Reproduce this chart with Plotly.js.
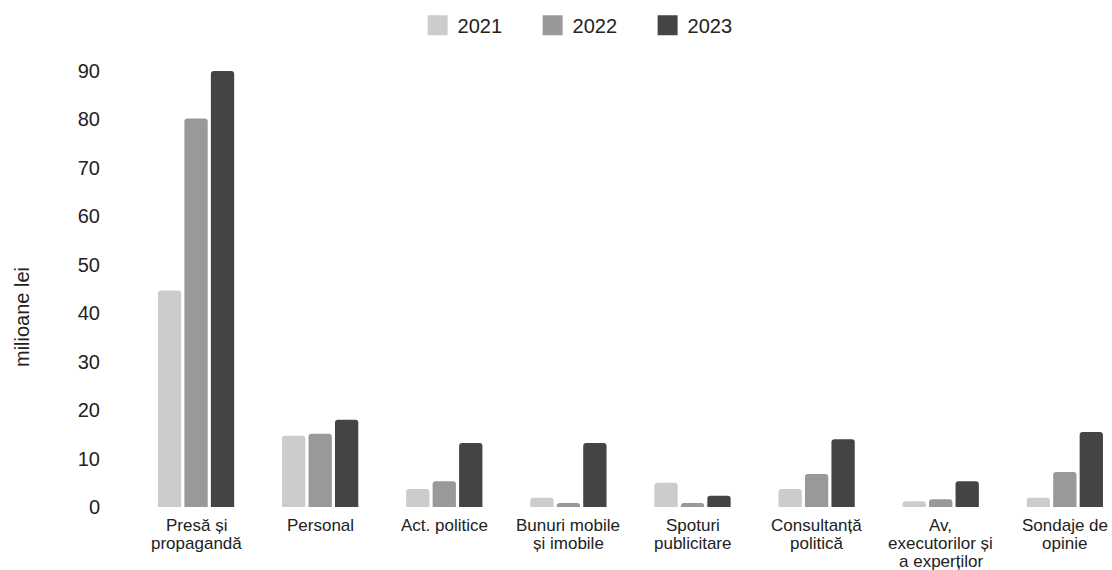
<!DOCTYPE html>
<html><head><meta charset="utf-8">
<script src="https://cdn.plot.ly/plotly-3.0.1.min.js"></script>
<style>html,body{margin:0;padding:0;background:#fff}#chart{width:1112px;height:570px}</style>
</head><body><div id="chart"></div>
<script>
var categories = ["Presă și<br>propagandă","Personal","Act. politice","Bunuri mobile<br>și imobile","Spoturi<br>publicitare","Consultanță<br>politică","Av,<br>executorilor și<br>a experților","Sondaje de<br>opinie"];
var years = ["2021","2022","2023"];
var values2021 = [44.7, 14.7, 3.7, 1.9, 5.0, 3.7, 1.2, 1.9];
var values2022 = [80.2, 15.1, 5.3, 0.8, 0.8, 6.8, 1.6, 7.2];
var values2023 = [90.0, 18.0, 13.2, 13.2, 2.3, 14.0, 5.3, 15.5];
var yTicks = [0,10,20,30,40,50,60,70,80,90];
var yTitle = "milioane lei";
var colors = ["#cccccc","#999999","#444444"];
var series = [values2021, values2022, values2023];
var traces = series.map(function(v,i){
  return {type:"bar", name:years[i], x:categories, y:v, showlegend:false,
    marker:{color:colors[i], cornerradius:3, line:{width:0}}, hoverinfo:"skip"};
});
years.forEach(function(y,i){
  traces.push({type:"scatter", mode:"markers", name:y, x:[null], y:[null],
    marker:{symbol:"square", size:22, color:colors[i], line:{color:colors[i], width:4}}, showlegend:true, hoverinfo:"skip"});
});
var annotations = [];
categories.forEach(function(c){
  c.split("<br>").forEach(function(line, j){
    annotations.push({xref:"x", yref:"paper", x:c, y:0, text:line, showarrow:false,
      xanchor:"center", yanchor:"middle", yshift:-(18.5 + j*18),
      font:{size:17, color:"#222"}});
  });
});
annotations.push({xref:"paper", yref:"paper", x:(22-134)/978, y:(507-317)/436, text:yTitle,
  textangle:-90, showarrow:false, xanchor:"center", yanchor:"middle", font:{size:20, color:"#222"}});
var layout = {
  width:1112, height:570,
  margin:{l:134, r:0, t:71, b:63, autoexpand:false},
  paper_bgcolor:"#fff", plot_bgcolor:"#fff",
  font:{family:"Liberation Sans, Arial, sans-serif", color:"#222"},
  barmode:"group", bargap:0.36, bargroupgap:0.12,
  showlegend:true,
  legend:{orientation:"h", x:0.29, xref:"paper", xanchor:"left", y:1.105, yanchor:"middle",
    font:{size:20, color:"#222"}, entrywidth:70, entrywidthmode:"pixels", itemsizing:"trace", traceorder:"normal"},
  xaxis:{type:"category", range:[-0.5, 7.38], showgrid:false, zeroline:false, showline:false,
    ticks:"", showticklabels:false, automargin:false},
  yaxis:{range:[0,90], showgrid:false, zeroline:false, showline:false, ticks:"",
    tickvals:yTicks, tickfont:{size:20, color:"#222"},
    ticklabelstandoff:33, automargin:false},
  annotations:annotations
};
Plotly.newPlot("chart", traces, layout, {displayModeBar:false, staticPlot:true});
</script></body></html>
